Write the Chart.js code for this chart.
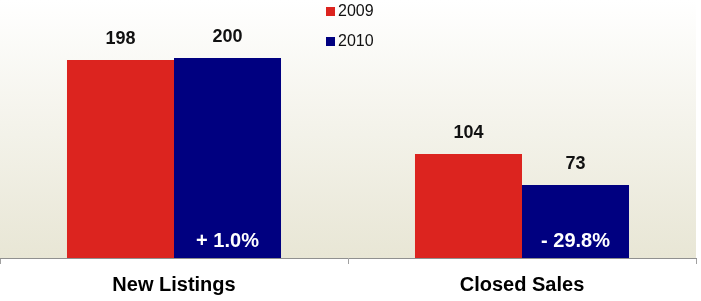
<!DOCTYPE html>
<html>
<head>
<meta charset="utf-8">
<script src="https://cdn.jsdelivr.net/npm/chart.js@4"></script>
<style>
  body { margin: 0; background: #fff; }
  #wrap { width: 701px; height: 301px; }
</style>
</head>
<body>
<div id="wrap"><canvas id="salesChart" width="701" height="301"></canvas></div>
<script>
// chart data
const categories = ['New Listings', 'Closed Sales'];
const years = ['2009', '2010'];
const values2009 = [198, 104];
const values2010 = [200, 73];
const changeLabels = ['+ 1.0%', '- 29.8%'];
const colors = ['#DC241F', '#000080'];

const fontFam = '"Liberation Sans", Arial, sans-serif';

// paints the beige fade behind the bars
const bgPlugin = {
    id: 'bgFade',
    beforeDraw(chart) {
        const { ctx, chartArea } = chart;
        const g = ctx.createLinearGradient(0, 0, 0, chartArea.bottom);
        g.addColorStop(0, '#FFFFFF');
        g.addColorStop(1, '#E8E6D5');
        ctx.save();
        ctx.fillStyle = g;
        ctx.fillRect(0, 0, chartArea.right, chartArea.bottom);
        ctx.restore();
    }
};

// value labels above bars + change labels inside the 2010 bars
const labelPlugin = {
    id: 'barLabels',
    afterDatasetsDraw(chart) {
        const ctx = chart.ctx;
        ctx.save();
        ctx.textAlign = 'center';
        ctx.textBaseline = 'middle';
        ctx.font = 'bold 18px ' + fontFam;
        ctx.fillStyle = '#111';
        chart.data.datasets.forEach((ds, di) => {
            chart.getDatasetMeta(di).data.forEach((bar, i) => {
                ctx.fillText(String(ds.data[i]), bar.x, bar.y - 21);
            });
        });
        ctx.font = 'bold 20px ' + fontFam;
        ctx.fillStyle = '#fff';
        chart.getDatasetMeta(1).data.forEach((bar, i) => {
            ctx.fillText(changeLabels[i], bar.x, chart.chartArea.bottom - 17);
        });
        ctx.restore();
    }
};

// legend sits inside the plot, near the top middle
const legendPlugin = {
    id: 'innerLegend',
    afterDraw(chart) {
        const ctx = chart.ctx;
        ctx.save();
        ctx.font = '16px ' + fontFam;
        ctx.textBaseline = 'middle';
        ctx.textAlign = 'left';
        years.forEach((y, i) => {
            const top = 7 + i * 30;
            ctx.fillStyle = colors[i];
            ctx.fillRect(326, top, 9, 9);
            ctx.fillStyle = '#111';
            ctx.fillText(y, 338, top + 5);
        });
        ctx.restore();
    }
};

const ctx = document.getElementById('salesChart').getContext('2d');
new Chart(ctx, {
    type: 'bar',
    data: {
        labels: categories,
        datasets: [
            { label: years[0], data: values2009, backgroundColor: colors[0] },
            { label: years[1], data: values2010, backgroundColor: colors[1] }
        ]
    },
    options: {
        responsive: false,
        animation: false,
        layout: { padding: { left: 0, right: 5, top: 0, bottom: 0 } },
        categoryPercentage: 0.615,
        barPercentage: 1.0,
        scales: {
            x: {
                grid: {
                    offset: true,
                    drawOnChartArea: false,
                    tickLength: 6,
                    color: '#A0A0A0'
                },
                border: { color: '#909090', width: 1 },
                ticks: {
                    padding: 9,
                    color: '#000',
                    font: { family: fontFam, size: 20, weight: 'bold' }
                },
                afterFit(scale) { scale.height = 43; }
            },
            y: {
                display: false,
                min: 0,
                max: 258
            }
        },
        plugins: {
            legend: { display: false },
            tooltip: { enabled: false }
        }
    },
    plugins: [bgPlugin, labelPlugin, legendPlugin]
});
</script>
</body>
</html>
